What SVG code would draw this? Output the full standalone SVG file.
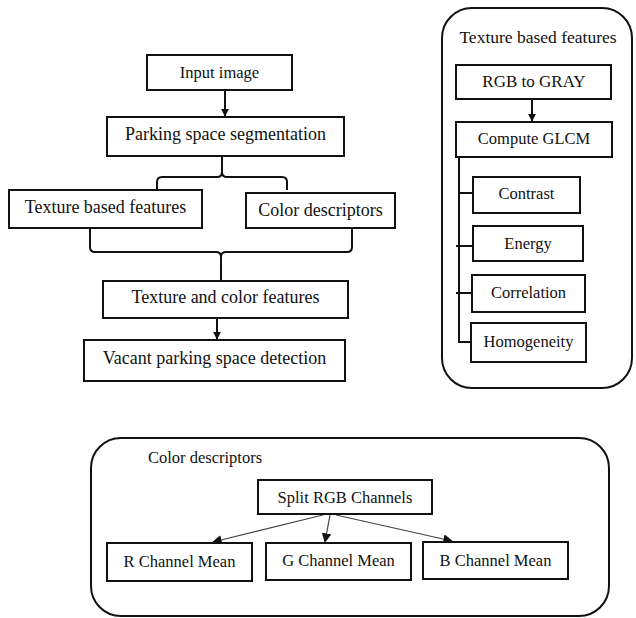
<svg xmlns="http://www.w3.org/2000/svg" width="636" height="618" viewBox="0 0 636 618">
  <style>
    .box { fill: #fff; stroke: #111; stroke-width: 2; }
    .frame { fill: none; stroke: #111; stroke-width: 2; }
    text { font-family: 'Liberation Serif', 'Times New Roman', 'DejaVu Serif', Times, serif; fill: #111; text-anchor: middle; }
    .t { font-size: 18px; }
    .s { font-size: 16.5px; }
    .line { fill: none; stroke: #111; stroke-width: 2; }
    .thin { fill: none; stroke: #444; stroke-width: 1.2; }
  </style>
  <defs>
    <marker id="head" viewBox="0 0 10 10" refX="9" refY="5" markerWidth="4" markerHeight="4" orient="auto" markerUnits="strokeWidth">
      <path d="M0,0 L10,5 L0,10 Z" fill="#111"/>
    </marker>
    <marker id="headThin" viewBox="0 0 10 10" refX="9" refY="5" markerWidth="8" markerHeight="8" orient="auto" markerUnits="strokeWidth">
      <path d="M0,0 L10,5 L0,10 Z" fill="#111"/>
    </marker>
  </defs>

  <rect width="636" height="618" fill="#fff"/>

  <!-- containers -->
  <g id="texture-panel">
    <rect class="frame" x="442" y="8" width="190" height="380" rx="30" ry="30"/>
    <text class="s" x="538" y="43" style="font-size:17.5px">Texture based features</text>
  </g>
  <g id="color-panel">
    <rect class="frame" x="91" y="438" width="518" height="178" rx="30" ry="30"/>
    <text class="s" x="148" y="463" style="text-anchor:start">Color descriptors</text>
  </g>

  <!-- connectors -->
  <g id="connectors">
    <line class="line" x1="225" y1="91" x2="225" y2="116" marker-end="url(#head)"/>
    <path class="line" d="M157,190 V182 Q157,177 162,177 H217 Q222,177 222,172 V156 M287,190 V182 Q287,177 282,177 H227 Q222,177 222,172"/>
    <path class="line" d="M90,228 V247 Q90,252 95,252 H216 Q221,252 221,257 V281 M352,228 V247 Q352,252 347,252 H226 Q221,252 221,257"/>
    <line class="line" x1="217" y1="319" x2="217" y2="339" marker-end="url(#head)"/>
    <line class="line" x1="532" y1="100" x2="532" y2="121" marker-end="url(#head)"/>
    <path class="line" d="M459,157 V342 H471"/>
    <line class="line" x1="459" y1="193" x2="473" y2="193"/>
    <line class="line" x1="456" y1="246" x2="472" y2="246"/>
    <line class="line" x1="456" y1="293" x2="471" y2="293"/>
    <line class="thin" x1="323" y1="515" x2="213" y2="542" marker-end="url(#headThin)"/>
    <line class="thin" x1="330" y1="515" x2="325" y2="542" marker-end="url(#headThin)"/>
    <line class="thin" x1="336" y1="515" x2="452" y2="541" marker-end="url(#headThin)"/>
  </g>

  <!-- main flow -->
  <g id="input-image">
    <rect class="box" x="147" y="55" width="145" height="35"/>
    <text class="t" x="219.5" y="78" style="font-size:16.5px">Input image</text>
  </g>
  <g id="segmentation">
    <rect class="box" x="107" y="117" width="237" height="39"/>
    <text class="t" x="225.5" y="140">Parking space segmentation</text>
  </g>
  <g id="texture-features">
    <rect class="box" x="9" y="190" width="193" height="38"/>
    <text class="t" x="105.5" y="213">Texture based features</text>
  </g>
  <g id="color-features">
    <rect class="box" x="246" y="193" width="149" height="35"/>
    <text class="t" x="320.5" y="216">Color descriptors</text>
  </g>
  <g id="combined-features">
    <rect class="box" x="103" y="281" width="245" height="37"/>
    <text class="t" x="225.5" y="303">Texture and color features</text>
  </g>
  <g id="detection">
    <rect class="box" x="84" y="340" width="261" height="41"/>
    <text class="t" x="214.5" y="364">Vacant parking space detection</text>
  </g>

  <!-- texture steps -->
  <g id="rgb-to-gray">
    <rect class="box" x="456" y="65" width="155" height="34"/>
    <text class="s" x="534" y="87" style="font-size:17px">RGB to GRAY</text>
  </g>
  <g id="glcm">
    <rect class="box" x="456" y="122" width="156" height="35"/>
    <text class="s" x="534" y="144">Compute GLCM</text>
  </g>
  <g id="contrast">
    <rect class="box" x="473" y="177" width="107" height="36"/>
    <text class="s" x="526.5" y="199">Contrast</text>
  </g>
  <g id="energy">
    <rect class="box" x="473" y="226" width="110" height="35"/>
    <text class="s" x="528" y="249">Energy</text>
  </g>
  <g id="correlation">
    <rect class="box" x="472" y="275" width="113" height="37"/>
    <text class="s" x="528.5" y="298">Correlation</text>
  </g>
  <g id="homogeneity">
    <rect class="box" x="471" y="323" width="115" height="39"/>
    <text class="s" x="528.5" y="347">Homogeneity</text>
  </g>

  <!-- color steps -->
  <g id="split-rgb">
    <rect class="box" x="258" y="480" width="174" height="34"/>
    <text class="s" x="345" y="503">Split RGB Channels</text>
  </g>
  <g id="r-mean">
    <rect class="box" x="107" y="543" width="145" height="38"/>
    <text class="s" x="179.5" y="567">R Channel Mean</text>
  </g>
  <g id="g-mean">
    <rect class="box" x="266" y="543" width="145" height="37"/>
    <text class="s" x="338.5" y="566">G Channel Mean</text>
  </g>
  <g id="b-mean">
    <rect class="box" x="423" y="542" width="145" height="37"/>
    <text class="s" x="495.5" y="566">B Channel Mean</text>
  </g>
</svg>
